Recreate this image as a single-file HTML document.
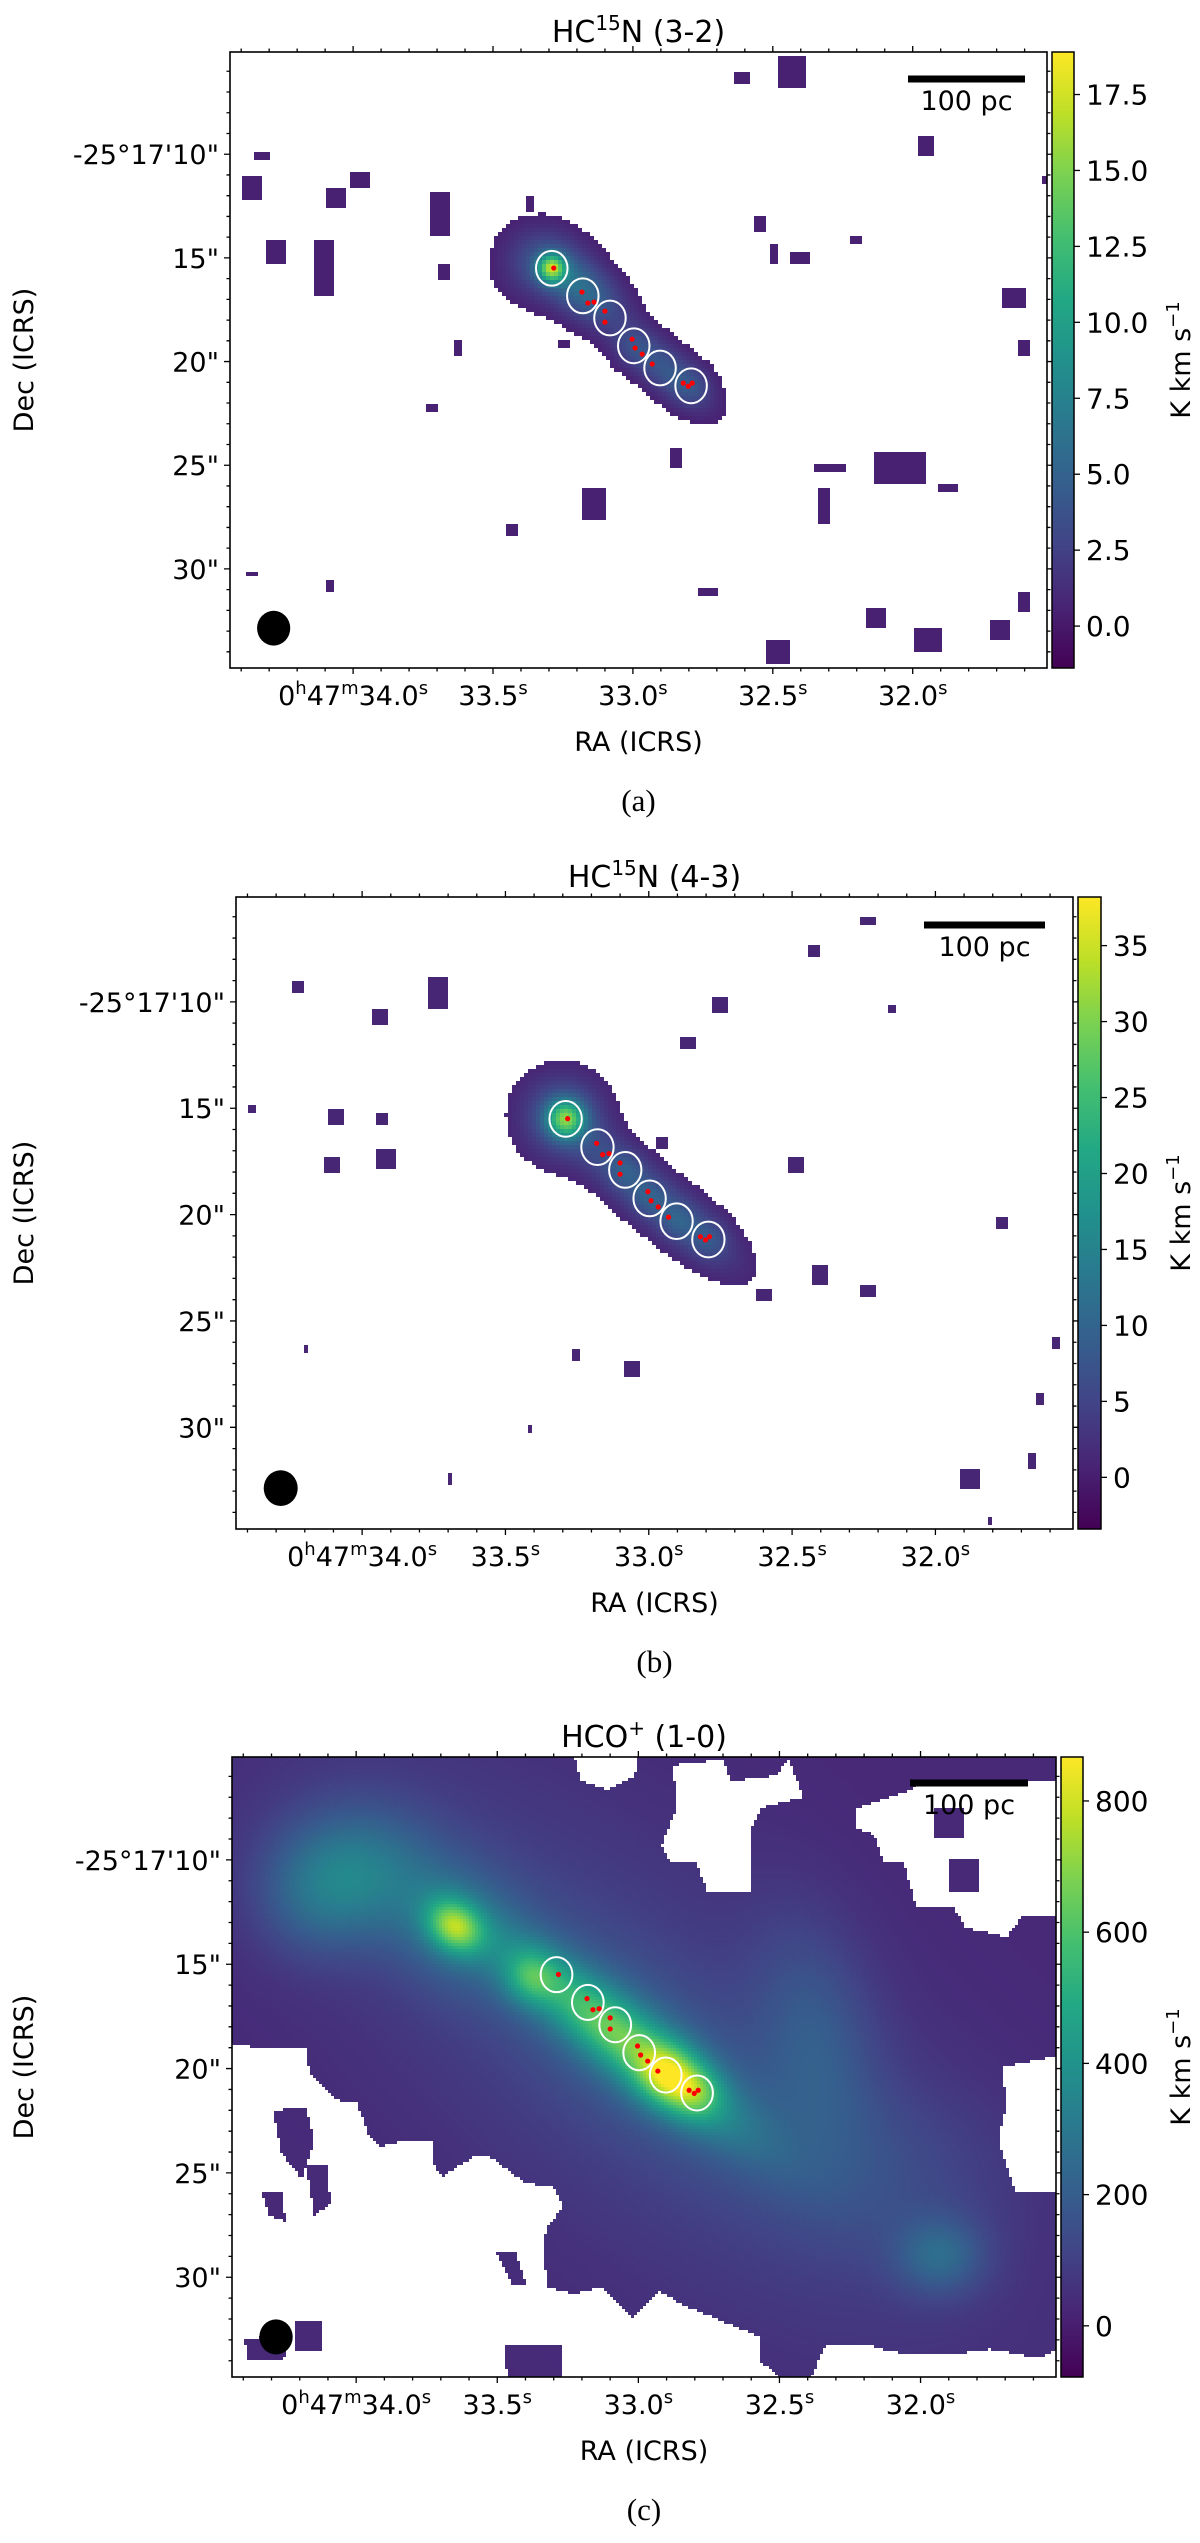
<!DOCTYPE html>
<html><head><meta charset="utf-8">
<style>
html,body{margin:0;padding:0;background:#fff;}
body{width:1200px;height:2543px;position:relative;overflow:hidden;}
canvas{position:absolute;image-rendering:pixelated;}
svg#fig{position:absolute;left:0;top:0;}
text{font-family:"DejaVu Sans","Liberation Sans",sans-serif;fill:#000;}
</style></head>
<body>
<svg id="fig" width="1200" height="2543" viewBox="0 0 1200 2543">
<defs>
<linearGradient id="vir" x1="0" y1="1" x2="0" y2="0">
<stop offset="0" stop-color="#440154"/><stop offset="0.1" stop-color="#482475"/><stop offset="0.2" stop-color="#414487"/>
<stop offset="0.3" stop-color="#355f8d"/><stop offset="0.4" stop-color="#2a788e"/><stop offset="0.5" stop-color="#21918c"/>
<stop offset="0.6" stop-color="#22a884"/><stop offset="0.7" stop-color="#44bf70"/><stop offset="0.8" stop-color="#7ad151"/>
<stop offset="0.9" stop-color="#bddf26"/><stop offset="1" stop-color="#fde725"/>
</linearGradient>
</defs>
</svg>
<script>
// ---- shared axis data ----
const raTicks=[34.0,33.5,33.0,32.5,32.0];
const raTickMain=["34.0","33.5","33.0","32.5","32.0"];
const decTicks=[10,15,20,25,30];
const decTickLabels=["-25°17'10\"","15\"","20\"","25\"","30\""];
const RAL=34.44, RAR=31.52, DT=5.07, DB=34.78;
// apertures (RA s, Dec ")
const circleRA=[33.290,33.179,33.082,32.997,32.903,32.792];
const circleDec=[15.50,16.83,17.90,19.24,20.31,21.17];
const dotRA=[33.283,33.182,33.161,33.139,33.100,33.100,33.003,32.992,32.967,32.931,32.820,32.802,32.788];
const dotDec=[15.49,16.65,17.18,17.13,17.57,18.10,18.92,19.35,19.64,20.12,21.04,21.19,21.04];
const beamRA=34.284, beamDec=32.86;
// colorbar ticks
const cbTicksA=[0,2.5,5,7.5,10,12.5,15,17.5];
const cbLabelsA=["0.0","2.5","5.0","7.5","10.0","12.5","15.0","17.5"];
const cbTicksB=[0,5,10,15,20,25,30,35];
const cbLabelsB=["0","5","10","15","20","25","30","35"];
const cbTicksC=[0,200,400,600,800];
const cbLabelsC=["0","200","400","600","800"];
const vRangeA=[-1.38,18.9], vRangeB=[-3.4,38.2], vRangeC=[-78,867];
// emission components (RA, Dec, amplitude, sigma-major ", sigma-minor ", angle)
const compA_ra=[33.290,33.33,33.18,32.88,33.00,32.79];
const compA_dec=[15.50,15.25,16.50,20.40,19.30,21.20];
const compA_amp=[12,3,5.5,4,1.5,1.5];
const compA_sa=[0.45,1.3,1.6,1.75,0.7,0.7];
const compA_sb=[0.45,1.2,0.9,0.75,0.7,0.7];
const compA_ang=[0,0,40,40,0,0];
const compB_ra=[33.290,33.30,33.10,32.85,33.08,33.00,32.90,32.79];
const compB_dec=[15.50,15.40,17.90,20.60,17.90,19.24,20.31,21.17];
const compB_amp=[22,8,6,6,3,3,3,3];
const compB_sa=[0.6,1.3,2.2,2.0,0.6,0.6,0.6,0.6];
const compB_sb=[0.6,1.3,0.85,0.85,0.6,0.6,0.6,0.6];
const compB_ang=[0,0,42,40,0,0,0,0];
const compC_ra=[33.0,33.997,34.15,33.65,33.65,33.05,33.05,33.38,32.90,32.80,32.37,31.93,32.10];
const compC_dec=[19.0,10.48,11.9,13.2,13.2,18.6,18.6,15.65,20.3,21.2,18.5,29.0,25.0];
const compC_amp=[90,220,110,450,150,420,130,220,300,220,120,170,60];
const compC_sa=[14,2.6,2.0,1.0,2.2,4.5,6.0,0.9,1.0,0.9,4.0,1.5,4.0];
const compC_sb=[6,2.2,2.0,0.8,2.0,1.1,2.2,0.9,1.0,0.9,2.0,1.3,3.0];
const compC_ang=[40,0,0,40,40,38,38,0,0,0,80,0,0];
const baseC=30;
// isolated emission specks (RA, Dec, width s, height ")
const aSpeckRA=[32.432,32.608,34.320,34.367,34.066,33.685,34.274,34.105,32.540,32.199,31.642,31.592,32.048,32.292,32.324,33.146,33.430,32.486,31.951,31.879,33.721,33.247,33.627,32.848,31.951,31.520,31.610,32.138,31.682,34.367,34.076,32.741,33.671,32.400,32.497,33.373,33.979];
const aSpeckDec=[5.94,6.42,10.09,11.73,12.21,12.84,14.72,15.54,13.32,14.24,16.89,19.26,25.24,25.09,26.88,26.98,28.09,34.12,33.49,26.16,22.34,19.11,19.26,24.56,9.51,11.29,31.51,32.33,32.86,30.30,30.79,31.13,15.59,15.01,14.77,12.40,11.25];
const aSpeckW=[.104,.054,.057,.072,.068,.072,.068,.072,.05,.043,.083,.05,.18,.11,.043,.083,.04,.083,.093,.068,.04,.04,.03,.036,.054,.036,.036,.065,.072,.043,.03,.065,.043,.065,.03,.03,.065];
const aSpeckH=[1.5,.63,.48,1.25,.97,2.2,1.1,2.7,.77,.48,1.0,.72,1.6,.48,1.64,1.6,.63,1.25,1.25,.39,.48,.48,.77,.97,.87,.48,.87,.87,.87,.24,.58,.48,.68,.58,.87,.68,.77];
const bSpeckRA=[33.736,33.938,34.226,34.381,34.085,33.915,33.938,34.109,32.868,32.760,32.422,32.24,32.95,32.478,32.40,32.24,32.607,33.068,33.258,31.886,31.66,31.63,31.58,31.768,31.81,32.146,34.19,33.69,33.405];
const bSpeckDec=[9.58,10.72,9.35,15.14,15.53,17.37,15.39,17.6,11.86,10.26,7.66,6.23,16.68,17.75,22.78,23.55,23.79,27.23,26.52,32.49,31.57,28.66,25.99,20.49,34.4,10.33,26.22,32.49,30.05];
const bSpeckW=[.071,.06,.04,.03,.06,.07,.04,.05,.06,.05,.04,.06,.04,.06,.06,.05,.05,.05,.03,.07,.03,.03,.03,.04,.02,.03,.01,.02,.02];
const bSpeckH=[1.53,.8,.5,.4,.8,1.0,.5,.8,.6,.8,.5,.3,.5,.8,.9,.6,.6,.7,.5,.9,.8,.6,.5,.6,.4,.4,.3,.5,.4];
// panel (c) blanked regions, fractional frame coords
const holesC=[
 [[0,.466],[.09,.47],[.094,.51],[.126,.553],[.152,.559],[.165,.607],[.178,.629],[.21,.618],[.245,.62],[.242,.65],[.255,.677],[.293,.645],[.313,.645],[.357,.688],[.39,.693],[.402,.725],[.383,.758],[.377,.785],[.383,.855],[.415,.866],[.447,.855],[.486,.903],[.518,.86],[.544,.882],[.602,.914],[.64,.935],[.64,.973],[.672,1.01],[-.01,1.01]],
 [[.414,-.01],[.493,-.01],[.489,.03],[.456,.052],[.423,.039]],
 [[.535,.013],[.596,.004],[.605,.039],[.661,.03],[.675,.004],[.694,.065],[.643,.082],[.629,.117],[.629,.217],[.577,.217],[.563,.17],[.531,.17],[.521,.143],[.54,.082]],
 [[.759,.082],[.82,.056],[.84,.039],[1.01,.039],[1.01,.255],[.96,.255],[.94,.29],[.89,.275],[.875,.24],[.83,.24],[.815,.17],[.79,.17],[.78,.125],[.759,.117]],
 [[.935,.5],[1.01,.48],[1.01,.7],[.95,.7],[.93,.62],[.94,.56]],
 [[.70,1.01],[.72,.95],[.77,.946],[.80,.96],[.87,.965],[.92,.955],[.98,.97],[1.01,.95],[1.01,1.01]]
];
const islandsC=[
 [[.05,.57],[.09,.565],[.10,.62],[.085,.68],[.06,.64]],
 [[.09,.66],[.115,.66],[.12,.72],[.10,.74]],
 [[.035,.70],[.06,.70],[.065,.75],[.045,.74]],
 [[.32,.80],[.345,.80],[.357,.85],[.34,.85]],
 [[.33,.95],[.40,.946],[.40,1.01],[.335,1.01]],
 [[.075,.91],[.11,.91],[.11,.96],[.075,.96]],
 [[.851,.081],[.887,.081],[.887,.129],[.851,.129]],
 [[.869,.166],[.908,.166],[.908,.219],[.869,.219]],
 [[.015,.94],[.06,.93],[.065,.97],[.02,.975]]
];

const NS='http://www.w3.org/2000/svg';
const svg=document.getElementById('fig');
function mk(tag,attrs,parent){const e=document.createElementNS(NS,tag);for(const k in attrs)e.setAttribute(k,attrs[k]);(parent||svg).appendChild(e);return e;}
const VIR=[[68,1,84],[72,36,117],[65,68,135],[53,95,141],[42,120,142],[33,145,140],[34,168,132],[68,191,112],[122,209,81],[189,223,38],[253,231,37]];
function vir(t){t=Math.max(0,Math.min(1,t));const p=t*10,i=Math.min(9,Math.floor(p)),f=p-i,a=VIR[i],b=VIR[i+1];
 return 'rgb('+Math.round(a[0]+(b[0]-a[0])*f)+','+Math.round(a[1]+(b[1]-a[1])*f)+','+Math.round(a[2]+(b[2]-a[2])*f)+')';}
function pip(x,y,poly){let ins=false;for(let i=0,j=poly.length-1;i<poly.length;j=i++){const xi=poly[i][0],yi=poly[i][1],xj=poly[j][0],yj=poly[j][1];
 if(((yi>y)!=(yj>y))&&(x<(xj-xi)*(y-yi)/(yj-yi)+xi))ins=!ins;}return ins;}

const panels=[
 {id:'a',title:['HC','15','N (3-2)'],x0:230,y0:52,x1:1047,y1:668,cb0:1052,cb1:1074,range:vRangeA,cbT:cbTicksA,cbL:cbLabelsA,
  comp:[compA_ra,compA_dec,compA_amp,compA_sa,compA_sb,compA_ang],base:0,thr:0.5,cs:4,specks:[aSpeckRA,aSpeckDec,aSpeckW,aSpeckH],speckV:0.5,sb:[908,1025,79],cap:'(a)'},
 {id:'b',title:['HC','15','N (4-3)'],x0:236,y0:897,x1:1073,y1:1529,cb0:1078,cb1:1101,range:vRangeB,cbT:cbTicksB,cbL:cbLabelsB,
  comp:[compB_ra,compB_dec,compB_amp,compB_sa,compB_sb,compB_ang],base:0,thr:1.0,cs:4,specks:[bSpeckRA,bSpeckDec,bSpeckW,bSpeckH],speckV:1.0,sb:[924,1045,925],cap:'(b)'},
 {id:'c',title:['HCO','+',' (1-0)'],x0:232,y0:1757,x1:1056,y1:2377,cb0:1061,cb1:1083,range:vRangeC,cbT:cbTicksC,cbL:cbLabelsC,
  comp:[compC_ra,compC_dec,compC_amp,compC_sa,compC_sb,compC_ang],base:baseC,thr:null,cs:3,specks:null,sb:[910,1028,1783],cap:'(c)'}
];

panels.forEach(P=>{
 const W=P.x1-P.x0,H=P.y1-P.y0;
 const xs=ra=>P.x0+(RAL-ra)/(RAL-RAR)*W;
 const ys=d=>P.y0+(d-DT)/(DB-DT)*H;
 const ppa=H/(DB-DT), ppsRA=W/(RAL-RAR);
 const cmap=v=>vir((v-P.range[0])/(P.range[1]-P.range[0]));
 const cv=document.createElement('canvas');
 
 
 cv.width=W;cv.height=H;cv.style.left=P.x0+'px';cv.style.top=P.y0+'px';
 document.body.insertBefore(cv,svg);
 const ctx=cv.getContext('2d');
 const C=P.comp;
 const cc=C[0].map((r,k)=>{const a=C[5][k]*Math.PI/180;return {cx:xs(r),cy:ys(C[1][k]),A:C[2][k],sa:C[3][k]*ppa,sb:C[4][k]*ppa,c:Math.cos(a),s:Math.sin(a)};});
 function field(px,py){let v=P.base;for(const g of cc){const dx=px-g.cx,dy=py-g.cy,u=dx*g.c+dy*g.s,w=-dx*g.s+dy*g.c;v+=g.A*Math.exp(-(u*u/(2*g.sa*g.sa)+w*w/(2*g.sb*g.sb)));}return v;}
 for(let y=0;y<H;y+=P.cs){for(let x=0;x<W;x+=P.cs){
  const px=P.x0+x+P.cs/2,py=P.y0+y+P.cs/2;
  if(P.id==='c'){const fx=(x+P.cs/2)/W,fy=(y+P.cs/2)/H;let hole=false;
   for(const h of holesC){if(pip(fx,fy,h)){hole=true;break;}}
   if(hole){let isl=false;for(const h of islandsC){if(pip(fx,fy,h)){isl=true;break;}} if(!isl)continue;}
   ctx.fillStyle=cmap(field(px,py));ctx.fillRect(x,y,P.cs,P.cs);
  } else {const v=field(px,py);if(v>P.thr){ctx.fillStyle=cmap(v);ctx.fillRect(x,y,P.cs,P.cs);}}
 }}
 if(P.specks){const S=P.specks;ctx.fillStyle=cmap(P.speckV);
  for(let k=0;k<S[0].length;k++){const w=Math.max(4,S[2][k]*ppsRA),h=Math.max(4,S[3][k]*ppa);
   const x=Math.round((xs(S[0][k])-P.x0-w/2)/4)*4,y=Math.round((ys(S[1][k])-P.y0-h/2)/4)*4;
   ctx.fillRect(x,y,Math.round(w/4)*4||4,Math.round(h/4)*4||4);}}
 const g=mk('g',{});
 
 
 for(let k=0;k<circleRA.length;k++){
  const c=mk('ellipse',{cx:xs(circleRA[k]),cy:ys(circleDec[k]),rx:0.76*ppa,ry:0.84*ppa,fill:'none',stroke:'#fff','stroke-width':2},g);
  
  
 }
 for(let k=0;k<dotRA.length;k++){
  const d=mk('circle',{cx:xs(dotRA[k]),cy:ys(dotDec[k]),r:2.6,fill:'#ff0000'},g);
  
  
 }
 const bm=mk('ellipse',{cx:xs(beamRA),cy:ys(beamDec),rx:0.8*ppa,ry:0.84*ppa,fill:'#000'},g);
 
 
 const sbl=mk('rect',{x:P.sb[0],y:P.sb[2]-3.5,width:P.sb[1]-P.sb[0],height:7,fill:'#000'},g);
 
 
 const sbt=mk('text',{x:(P.sb[0]+P.sb[1])/2,y:P.sb[2]+31,'text-anchor':'middle','font-size':27},g);
 sbt.textContent='100 pc';
 
 
 const fr=mk('rect',{x:P.x0,y:P.y0,width:W,height:H,fill:'none',stroke:'#000','stroke-width':1.6},g);
 
 
 let tp='';
 for(let r=31.6;r<=34.41;r+=0.1){const x=xs(r);const maj=raTicks.some(t=>Math.abs(t-r)<0.01);const L=maj?6:3.5;
  tp+=`M${x} ${P.y0}v${-L}M${x} ${P.y1}v${L}`;}
 for(let d=6;d<=34;d+=1){const y=ys(d);const maj=decTicks.includes(d);const L=maj?6:3.5;
  tp+=`M${P.x0} ${y}h${-L}M${P.x1} ${y}h${L}`;}
 const tk=mk('path',{d:tp,stroke:'#000','stroke-width':1.3,fill:'none'},g);
 
 
 raTicks.forEach((r,k)=>{
  const t=mk('text',{x:xs(r),y:P.y1+37,'text-anchor':'middle','font-size':27},g);
  
  
  const parts=k===0?[['0',0],['h',1],['47',0],['m',1],[raTickMain[k],0],['s',1]]:[[raTickMain[k],0],['s',1]];
  let up=false;
  parts.forEach(p=>{const ts=mk('tspan',{},t);ts.textContent=p[0];
   if(p[1]&&!up){ts.setAttribute('font-size',18);ts.setAttribute('dy',-11);up=true;}
   else if(!p[1]&&up){ts.setAttribute('dy',11);up=false;}
   else if(p[1]){ts.setAttribute('font-size',18);}});
 });
 decTicks.forEach((d,k)=>{
  const t=mk('text',{x:P.x0-11,y:ys(d)+10,'text-anchor':'end','font-size':27},g);
  t.textContent=decTickLabels[k];
  
  
 });
 const xl=mk('text',{x:(P.x0+P.x1)/2,y:P.y1+83,'text-anchor':'middle','font-size':27},g);
 xl.textContent='RA (ICRS)';
 
 
 const yl=mk('text',{x:0,y:0,'text-anchor':'middle','font-size':27,transform:`translate(33 ${(P.y0+P.y1)/2}) rotate(-90)`},g);
 yl.textContent='Dec (ICRS)';
 
 
 const ti=mk('text',{x:(P.x0+P.x1)/2,y:P.y0-10,'text-anchor':'middle','font-size':30},g);
 
 
 const t1=mk('tspan',{},ti);t1.textContent=P.title[0];
 const t2=mk('tspan',{'font-size':20,dy:-12},ti);t2.textContent=P.title[1];
 const t3=mk('tspan',{dy:12},ti);t3.textContent=P.title[2];
 const cb=mk('rect',{x:P.cb0,y:P.y0,width:P.cb1-P.cb0,height:H,fill:'url(#vir)',stroke:'#000','stroke-width':1.5},g);
 
 
 const cy=v=>P.y1-(v-P.range[0])/(P.range[1]-P.range[0])*H;
 P.cbT.forEach((v,k)=>{
  const l=mk('line',{x1:P.cb1,x2:P.cb1+6,y1:cy(v),y2:cy(v),stroke:'#000','stroke-width':1.3},g);
  
  
  const t=mk('text',{x:P.cb1+12,y:cy(v)+10,'font-size':28},g);
  t.textContent=P.cbL[k];
  
  
 });
 const cl=mk('text',{x:0,y:0,'text-anchor':'middle','font-size':27,transform:`translate(1190 ${(P.y0+P.y1)/2}) rotate(-90)`},g);
 
 
 const c1=mk('tspan',{},cl);c1.textContent='K km s';
 const c2=mk('tspan',{'font-size':18,dy:-11},cl);c2.textContent='−1';
 const cap=mk('text',{x:(P.x0+P.x1)/2,y:P.y1+143,'text-anchor':'middle','font-size':31,style:'font-family:"Liberation Serif",serif'},g);
 cap.textContent=P.cap;
 
 
});
</script>
</body></html>
